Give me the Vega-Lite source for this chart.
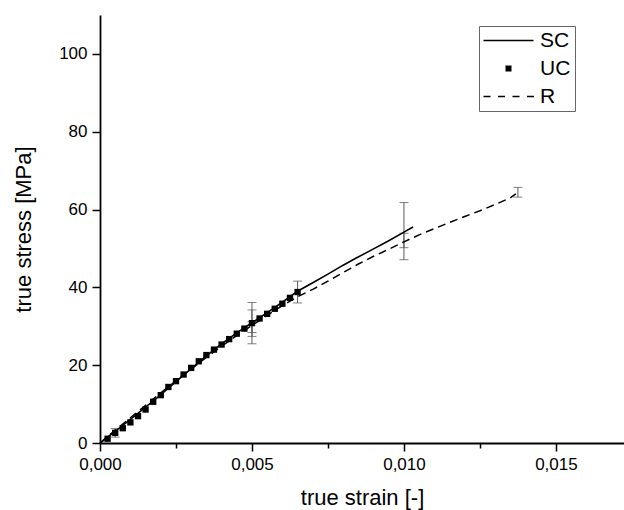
{
  "$schema": "https://vega.github.io/schema/vega-lite/v6.json",
  "width": 524,
  "height": 428,
  "autosize": {"type": "none"},
  "padding": {"left": 100, "top": 15, "right": 0, "bottom": 67},
  "background": "white",
  "config": {
    "view": {"stroke": null},
    "font": "Liberation Sans",
    "axis": {
      "domainColor": "black", "domainWidth": 1.8, "tickColor": "black", "tickWidth": 1.5,
      "labelFont": "Liberation Sans", "labelFontSize": 17, "labelColor": "black",
      "titleFont": "Liberation Sans", "titleFontSize": 22, "titleFontWeight": "normal", "titleColor": "black",
      "grid": false, "labelOverlap": false, "labelFlush": false
    }
  },
  "datasets": {
    "sc": [
      {"x": 0, "y": 0}, {"x": 0.0005, "y": 3.0}, {"x": 0.001, "y": 6.1}, {"x": 0.0015, "y": 9.2},
      {"x": 0.002, "y": 12.4}, {"x": 0.0025, "y": 15.8}, {"x": 0.003, "y": 19.1}, {"x": 0.0035, "y": 22.4},
      {"x": 0.004, "y": 25.5}, {"x": 0.0045, "y": 28.3}, {"x": 0.005, "y": 30.9}, {"x": 0.0055, "y": 33.5},
      {"x": 0.006, "y": 36.2}, {"x": 0.0065, "y": 39.0}, {"x": 0.007, "y": 41.2}, {"x": 0.0075, "y": 43.4},
      {"x": 0.008, "y": 45.7}, {"x": 0.0084, "y": 47.4}, {"x": 0.009, "y": 49.9}, {"x": 0.0095, "y": 52.0},
      {"x": 0.010, "y": 54.2}, {"x": 0.0103, "y": 55.5}
    ],
    "r": [
      {"x": 0, "y": 0}, {"x": 0.0005, "y": 3.3}, {"x": 0.001, "y": 6.5}, {"x": 0.0015, "y": 9.7},
      {"x": 0.002, "y": 12.9}, {"x": 0.0025, "y": 16.0}, {"x": 0.003, "y": 19.0}, {"x": 0.0035, "y": 22.0},
      {"x": 0.004, "y": 24.9}, {"x": 0.0045, "y": 27.6}, {"x": 0.005, "y": 30.2}, {"x": 0.0055, "y": 32.8},
      {"x": 0.006, "y": 35.3}, {"x": 0.0065, "y": 37.6}, {"x": 0.007, "y": 39.5}, {"x": 0.0075, "y": 41.6},
      {"x": 0.008, "y": 43.8}, {"x": 0.0085, "y": 46.0}, {"x": 0.009, "y": 48.0}, {"x": 0.0095, "y": 49.8},
      {"x": 0.010, "y": 51.7}, {"x": 0.0105, "y": 53.5}, {"x": 0.011, "y": 55.1}, {"x": 0.0115, "y": 56.7},
      {"x": 0.012, "y": 58.2}, {"x": 0.0125, "y": 59.7}, {"x": 0.013, "y": 61.3}, {"x": 0.0135, "y": 63.0},
      {"x": 0.01368, "y": 64.0}
    ],
    "uc": [
      {"series": "UC", "x": 0.00025, "y": 1.1}, {"series": "UC", "x": 0.0005, "y": 2.6},
      {"series": "UC", "x": 0.00075, "y": 3.8}, {"series": "UC", "x": 0.001, "y": 5.3},
      {"series": "UC", "x": 0.00125, "y": 6.9}, {"series": "UC", "x": 0.0015, "y": 8.6},
      {"series": "UC", "x": 0.00175, "y": 10.6}, {"series": "UC", "x": 0.002, "y": 12.3},
      {"series": "UC", "x": 0.00225, "y": 14.4}, {"series": "UC", "x": 0.0025, "y": 15.9},
      {"series": "UC", "x": 0.00275, "y": 17.6}, {"series": "UC", "x": 0.003, "y": 19.3},
      {"series": "UC", "x": 0.00325, "y": 21.0}, {"series": "UC", "x": 0.0035, "y": 22.6},
      {"series": "UC", "x": 0.00375, "y": 24.0}, {"series": "UC", "x": 0.004, "y": 25.3},
      {"series": "UC", "x": 0.00425, "y": 26.7}, {"series": "UC", "x": 0.0045, "y": 28.1},
      {"series": "UC", "x": 0.00475, "y": 29.4}, {"series": "UC", "x": 0.005, "y": 30.8},
      {"series": "UC", "x": 0.00525, "y": 32.0}, {"series": "UC", "x": 0.0055, "y": 33.2},
      {"series": "UC", "x": 0.00575, "y": 34.5}, {"series": "UC", "x": 0.006, "y": 35.8},
      {"series": "UC", "x": 0.00625, "y": 37.3}, {"series": "UC", "x": 0.0065, "y": 38.8}
    ],
    "err": [
      {"x": 0.0005, "lo": 1.5, "hi": 3.7},
      {"x": 0.005, "lo": 25.5, "hi": 36.1},
      {"x": 0.005, "lo": 27.4, "hi": 34.2},
      {"x": 0.005, "lo": 28.4, "hi": 31.2},
      {"x": 0.0065, "lo": 36.0, "hi": 41.6},
      {"x": 0.010, "lo": 47.1, "hi": 61.8},
      {"x": 0.010, "lo": 50.2, "hi": 53.9},
      {"x": 0.01375, "lo": 63.2, "hi": 65.7}
    ]
  },
  "layer": [
    {
      "data": {"name": "err"},
      "mark": {"type": "errorbar", "ticks": {"size": 9, "color": "#4d4d4d", "strokeWidth": 1}, "rule": {"color": "#5a5a5a", "strokeWidth": 1}},
      "encoding": {
        "x": {"field": "x", "type": "quantitative", "scale": {"domain": [0, 0.01724], "nice": false},
          "axis": {"title": "true strain [-]", "values": [0, 0.0025, 0.005, 0.0075, 0.01, 0.0125, 0.015],
            "labelExpr": "abs(datum.value*200 - round(datum.value*200)) < 0.000001 ? replace(format(datum.value, '.3f'), '.', ',') : ''",
            "tickSize": {"condition": {"test": "abs(datum.value*200 - round(datum.value*200)) < 0.000001", "value": 8}, "value": 5},
            "labelPadding": 5, "titlePadding": 15}},
        "y": {"field": "lo", "type": "quantitative", "scale": {"domain": [0, 110], "nice": false},
          "axis": {"title": "true stress [MPa]", "values": [0, 10, 20, 30, 40, 50, 60, 70, 80, 90, 100, 110],
            "labelExpr": "datum.value % 20 === 0 ? datum.label : ''",
            "tickSize": {"condition": {"test": "datum.value % 20 === 0", "value": 8}, "value": 5},
            "labelPadding": 5, "titlePadding": 23}},
        "y2": {"field": "hi"}
      }
    },
    {
      "data": {"name": "sc"},
      "mark": {"type": "line", "color": "black", "strokeWidth": 1.6},
      "encoding": {
        "x": {"field": "x", "type": "quantitative"},
        "y": {"field": "y", "type": "quantitative"}
      }
    },
    {
      "data": {"name": "r"},
      "mark": {"type": "line", "color": "black", "strokeWidth": 1.5, "strokeDash": [8, 5]},
      "encoding": {
        "x": {"field": "x", "type": "quantitative"},
        "y": {"field": "y", "type": "quantitative"}
      }
    },
    {
      "data": {"name": "uc"},
      "mark": {"type": "point", "shape": "square", "filled": true, "color": "black", "opacity": 1, "size": 40},
      "encoding": {
        "x": {"field": "x", "type": "quantitative"},
        "y": {"field": "y", "type": "quantitative"}
      }
    },
    {
      "data": {"name": "uc"},
      "transform": [{"filter": "false"}],
      "mark": {"type": "point", "filled": true, "color": "black", "opacity": 1},
      "encoding": {
        "x": {"field": "x", "type": "quantitative"},
        "y": {"field": "y", "type": "quantitative"},
        "shape": {"field": "series", "type": "nominal",
          "scale": {"domain": ["SC", "UC", "R"],
            "range": [
              "M-2,-0.16L8,-0.16L8,0.16L-2,0.16Z",
              "M2.4,-0.6L3.6,-0.6L3.6,0.6L2.4,0.6Z",
              "M-2,-0.15L-0.6,-0.15L-0.6,0.15L-2,0.15ZM0.9,-0.15L2.3,-0.15L2.3,0.15L0.9,0.15ZM3.8,-0.15L5.2,-0.15L5.2,0.15L3.8,0.15ZM6.7,-0.15L8.1,-0.15L8.1,0.15L6.7,0.15Z"
            ]},
          "legend": {"title": null, "orient": "none", "legendX": 379, "legendY": 11,
            "strokeColor": "#666", "padding": 4, "labelFontSize": 21, "labelFont": "Liberation Sans", "labelColor": "black",
            "symbolSize": 100, "symbolStrokeWidth": 0, "labelOffset": 36, "rowPadding": 6}}
      }
    }
  ]
}
